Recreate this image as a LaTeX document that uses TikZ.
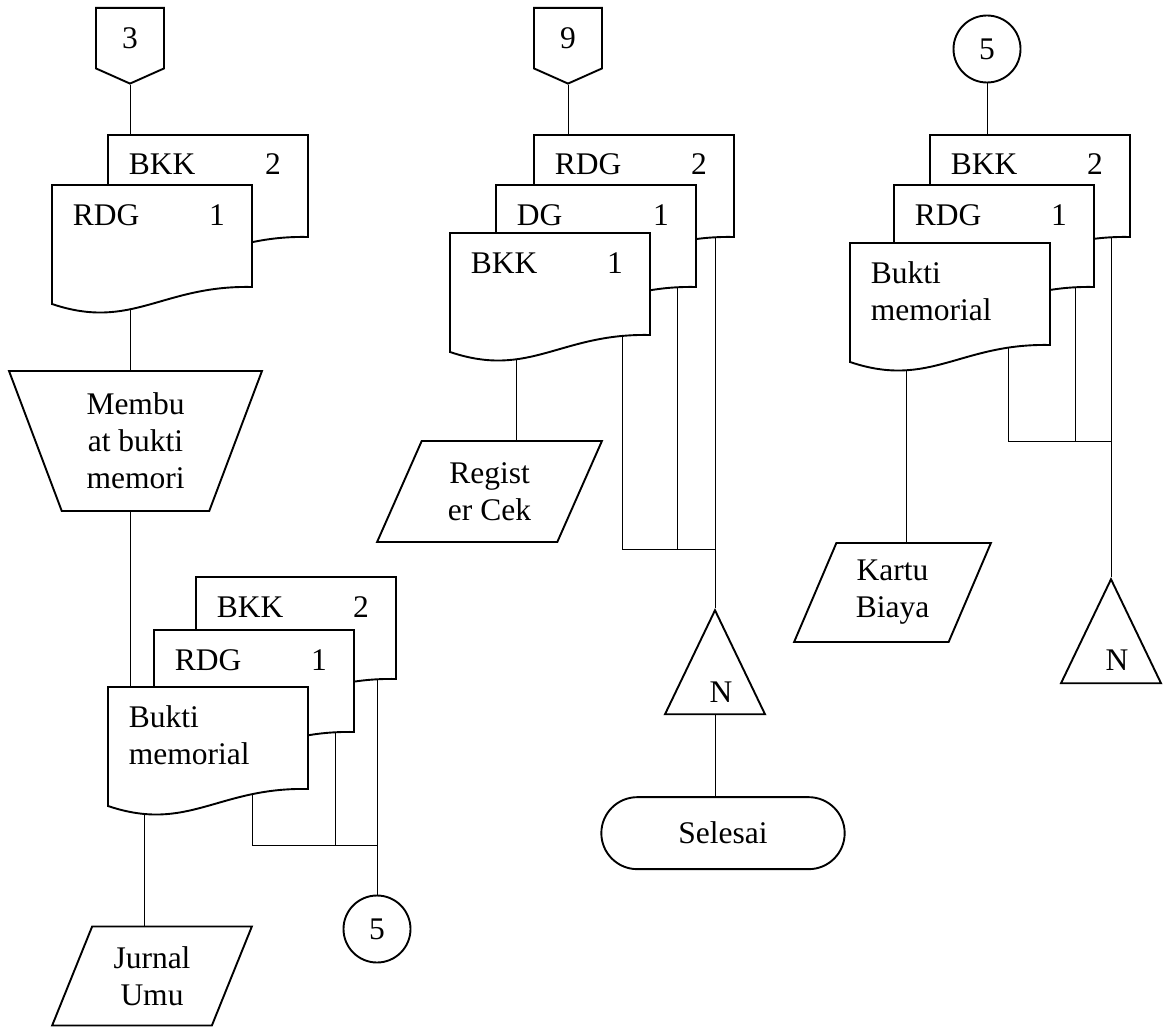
\documentclass[tikz,border=0pt]{standalone}
\usepackage{fontspec}
\setmainfont{Liberation Serif}
\usetikzlibrary{shapes.geometric,shapes.misc,shapes.symbols,positioning,backgrounds}
\begin{document}
\begin{tikzpicture}[
        x=1pt, y=-1pt,
        line width=1.9pt,
        every node/.style={font=\fontsize{31.5}{37}\selectfont},
        teks_doc/.style={inner sep=0pt},
        konektor_hal/.style={draw, signal, signal to=south, signal from=nowhere, signal pointer angle=132, minimum width=68, minimum height=64, inner sep=0pt, anchor=north},
        konektor/.style={draw, circle, minimum size=67, inner sep=0pt},
        manual/.style={draw, trapezium, trapezium angle=70, shape border rotate=180, trapezium stretches=true, minimum width=253, minimum height=140, align=center},
        input_data/.style={draw, trapezium, trapezium left angle=67, trapezium right angle=113, trapezium stretches=true, minimum width=200, minimum height=99, align=center},
        arsip/.style={draw, isosceles triangle, isosceles triangle apex angle=50, isosceles triangle stretches, shape border rotate=90, minimum width=100, minimum height=104, inner sep=0pt},
        terminal/.style={draw, rounded rectangle, minimum width=250, minimum height=72},
        pics/dokumen/.style n args={2}{code={
            \filldraw[fill=white] (0,0) -- (200,0) -- (200,102) .. controls (110,100) and (80,146) .. (0,119) -- cycle;
            \node[teks_doc, anchor=base west] (-nama) at (20,40) {\begin{tabular}[t]{@{}l@{}}#1\end{tabular}};
            \node[teks_doc, anchor=base] (-no) at (165,40) {#2};
            \coordinate (-atas) at (0,0);
            \coordinate (-bawah) at (50,100);
            \coordinate (-kanan) at (181,95);
        }}
        ]
    \useasboundingbox (0,0) rectangle (1166,1027);

    % kolom 1
    \node[konektor_hal] (k3) at (130,7) {3};
    \pic (bkk1) at (108,135) {dokumen={BKK}{2}};
    \pic (rdg1) at (52,185) {dokumen={RDG}{1}};
    \node[manual] (buat) at (135.5,441) {Membu\\at bukti\\memori};
    \pic (bkk2) at (196,577) {dokumen={BKK}{2}};
    \pic (rdg2) at (154,630) {dokumen={RDG}{1}};
    \pic (bm1) at (108,687) {dokumen={Bukti\\memorial}{}};
    \node[input_data] (jurnal) at (152,976) {Jurnal\\Umu};
    \node[konektor] (s5a) at (bkk2-kanan |- 0,929) {5};
    \coordinate (cab1) at (bkk2-kanan |- 0,845);

    % kolom 2
    \node[konektor_hal] (k9) at (568,7) {9};
    \pic (rdg3) at (534,135) {dokumen={RDG}{2}};
    \pic (dg) at (496,185) {dokumen={DG}{1}};
    \pic (bkk3) at (450,233) {dokumen={BKK}{1}};
    \node[input_data, minimum width=225, minimum height=101, trapezium left angle=65.5, trapezium right angle=114.5] (register) at (489.5,491.5) {Regist\\er Cek};
    \coordinate (cab2) at (rdg3-kanan |- 0,549);
    \node[arsip, anchor=apex] (n1) at (rdg3-kanan |- 0,608) {};
    \node[anchor=base] (n1t) at ([xshift=6,yshift=13]n1.south) {N};
    \node[terminal, below=81pt of n1, xshift=8pt] (selesai) {Selesai};

    % kolom 3
    \node[konektor] (s5b) at (987,49) {5};
    \pic (bkk4) at (930,135) {dokumen={BKK}{2}};
    \pic (rdg4) at (894,185) {dokumen={RDG}{1}};
    \pic (bm2) at (850,243) {dokumen={Bukti\\memorial}{}};
    \node[input_data, minimum width=197] (kartu) at (892.5,592.5) {Kartu\\Biaya};
    \coordinate (cab3) at (bkk4-kanan |- 0,441);
    \node[arsip, anchor=apex] (n2) at (bkk4-kanan |- 0,577) {};
    \node[anchor=base] (n2t) at ([xshift=6,yshift=14]n2.south) {N};

    \begin{pgfonlayer}{background}
        \draw (k3.south) -- (k3.south |- bkk1-atas);
        \draw (k3.south |- rdg1-bawah) -- (k3.south |- buat.north);
        \draw (k3.south |- buat.south) -- (k3.south |- bm1-atas);
        \draw ([xshift=-14]bm1-bawah) -- ([xshift=-14]bm1-bawah |- jurnal.north);
        \draw ([xshift=-37]bm1-kanan) |- (cab1);
        \draw (rdg2-kanan) -- (rdg2-kanan |- cab1);
        \draw (bkk2-kanan) -- (s5a.north);

        \draw (k9.south) -- (k9.south |- rdg3-atas);
        \draw ([xshift=16]bkk3-bawah) -- ([xshift=16]bkk3-bawah |- register.north);
        \draw ([xshift=-9]bkk3-kanan) |- (cab2);
        \draw (dg-kanan) -- (dg-kanan |- cab2);
        \draw (rdg3-kanan) -- (n1.apex);
        \draw (n1.south) -- (n1.south |- selesai.north);

        \draw (s5b.south) -- (s5b.south |- bkk4-atas);
        \draw ([xshift=6]bm2-bawah) -- ([xshift=6]bm2-bawah |- kartu.north);
        \draw ([xshift=-23]bm2-kanan) |- (cab3);
        \draw (rdg4-kanan) -- (rdg4-kanan |- cab3);
        \draw (bkk4-kanan) -- (n2.apex);
    \end{pgfonlayer}
\end{tikzpicture}
\end{document}
